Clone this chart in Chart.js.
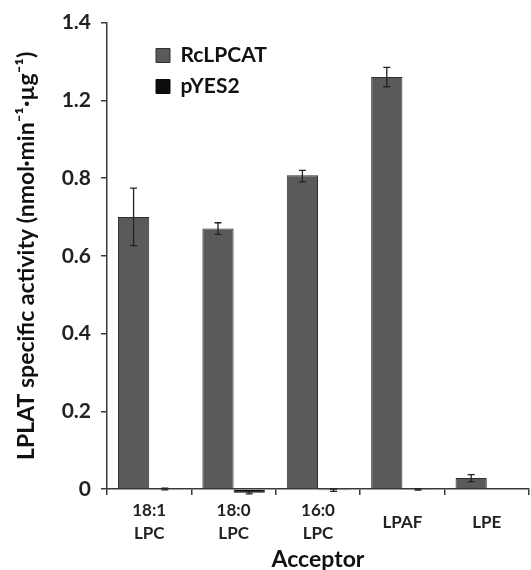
<!DOCTYPE html>
<html>
<head>
<meta charset="utf-8">
<script src="https://cdn.jsdelivr.net/npm/chart.js@4/dist/chart.umd.min.js"></script>
<style>
  html, body { margin: 0; padding: 0; background: #ffffff; }
  canvas { display: block; }
</style>
</head>
<body>
<canvas id="c" width="531" height="570"></canvas>
<script>
// ---- data ----
const categories = [["18:1", "LPC"], ["18:0", "LPC"], ["16:0", "LPC"], "LPAF", "LPE"];
const seriesNames = ["RcLPCAT", "pYES2"];
const rcValues = [0.70, 0.67, 0.815, 1.26, 0.028];
const rcErrors = [0.074, 0.015, 0.025, 0.025, 0.009];
const pyValues = [0.0, -0.0095, -0.003, -0.001, 0.0];
const pyErrors = [0.002, 0.003, 0.003, 0.002, 0.0];
// tick values as printed on the original (evenly spaced, 1.0 absent)
const yTickValues = [0, 0.2, 0.4, 0.6, 0.8, 1.2, 1.4];
const yTickLabels = ["0", "0.2", "0.4", "0.6", "0.8", "1.2", "1.4"];
const yTitle = "LPLAT specific activity (nmol·min⁻¹·µg⁻¹)";
const xTitle = "Acceptor";

// ---- scale whose printed ticks are evenly spaced (piecewise linear) ----
class EvenTickScale extends Chart.LinearScale {
  buildTicks() {
    return yTickValues.map(v => ({ value: v }));
  }
  _tickPos(v) {
    const t = yTickValues, n = t.length;
    let i = 0;
    if (v >= t[n - 1]) i = n - 2;
    else if (v > t[0]) { while (v > t[i + 1]) i++; }
    return i + (v - t[i]) / (t[i + 1] - t[i]);
  }
  getPixelForValue(v) {
    return this.getPixelForDecimal(this._tickPos(v) / (yTickValues.length - 1));
  }
  getValueForPixel(p) {
    const t = yTickValues, n = t.length;
    const d = this.getDecimalForPixel(p) * (n - 1);
    const i = Math.max(0, Math.min(n - 2, Math.floor(d)));
    return t[i] + (d - i) * (t[i + 1] - t[i]);
  }
}
EvenTickScale.id = 'evenTick';
EvenTickScale.defaults = Chart.LinearScale.defaults;
Chart.register(EvenTickScale);

const FONT = "Lato";
const AXIS_COLOR = "#3a3a3a";

const errorBars = {
  id: 'errorBars',
  afterDatasetsDraw(chart) {
    const ctx = chart.ctx;
    const y = chart.scales.y;
    const errs = [rcErrors, pyErrors];
    chart.data.datasets.forEach((ds, di) => {
      const meta = chart.getDatasetMeta(di);
      meta.data.forEach((bar, i) => {
        const e = errs[di][i];
        if (!e) return;
        const v = ds.data[i];
        const yt = y.getPixelForValue(v + e);
        const yb = y.getPixelForValue(v - e);
        const cap = 3.5;
        ctx.save();
        ctx.strokeStyle = "#222";
        ctx.lineWidth = 1.3;
        ctx.beginPath();
        ctx.moveTo(bar.x, yt); ctx.lineTo(bar.x, yb);
        ctx.moveTo(bar.x - cap, yt); ctx.lineTo(bar.x + cap, yt);
        ctx.moveTo(bar.x - cap, yb); ctx.lineTo(bar.x + cap, yb);
        ctx.stroke();
        ctx.restore();
      });
    });
  }
};

const legendShift = {
  id: 'legendShift',
  afterLayout(chart) {
    if (chart.legend) {
      chart.legend.left += 39;
      chart.legend.top += 35;
      chart.legend.bottom += 35;
    }
  }
};

const whiteBg = {
  id: 'whiteBg',
  beforeDraw(chart) {
    const ctx = chart.ctx;
    ctx.save();
    ctx.fillStyle = "#ffffff";
    ctx.fillRect(0, 0, chart.width, chart.height);
    ctx.restore();
  }
};

new Chart(document.getElementById('c'), {
  type: 'bar',
  data: {
    labels: categories,
    datasets: [
      {
        label: seriesNames[0],
        data: rcValues,
        backgroundColor: "#5a5a5a",
        borderColor: "#2e2e2e",
        borderWidth: 1,
        clip: false
      },
      {
        label: seriesNames[1],
        data: pyValues,
        backgroundColor: "#0d0d0d",
        borderColor: "#0d0d0d",
        borderWidth: 1,
        clip: false
      }
    ]
  },
  options: {
    responsive: false,
    devicePixelRatio: 1,
    animation: false,
    categoryPercentage: 0.74,
    barPercentage: 1.0,
    layout: { padding: { top: 20, right: 2, left: 0, bottom: 0 } },
    plugins: {
      legend: {
        position: 'chartArea',
        align: 'start',
        labels: {
          boxWidth: 14,
          boxHeight: 14,
          padding: 10,
          color: "#111",
          font: { family: FONT, size: 21, weight: 'bold' }
        }
      },
      tooltip: { enabled: false }
    },
    scales: {
      x: {
        grid: {
          drawOnChartArea: false,
          drawTicks: true,
          tickLength: 6,
          color: AXIS_COLOR,
          lineWidth: 1.5
        },
        border: { color: AXIS_COLOR, width: 1.5 },
        ticks: {
          color: "#222",
          padding: 16,
          maxRotation: 0,
          autoSkip: false,
          crossAlign: 'center',
          font: { family: FONT, size: 17, weight: 'bold', lineHeight: 1.35 }
        },
        title: {
          display: true,
          text: xTitle,
          color: "#111",
          padding: { top: 0, bottom: 0 },
          font: { family: FONT, size: 23, weight: 'bold', lineHeight: 0.9 }
        },
        afterFit(scale) { scale.height = 81; }
      },
      y: {
        type: 'evenTick',
        min: 0,
        max: 1.4,
        grid: {
          drawOnChartArea: false,
          drawTicks: true,
          tickLength: 6,
          color: AXIS_COLOR,
          lineWidth: 1.5
        },
        border: { color: AXIS_COLOR, width: 1.5 },
        ticks: {
          color: "#222",
          padding: 10,
          autoSkip: false,
          font: { family: FONT, size: 21, weight: 'bold' },
          callback: (value, index) => yTickLabels[index]
        },
        title: {
          display: true,
          text: yTitle,
          color: "#111",
          padding: { top: 13, bottom: 0 },
          font: { family: FONT, size: 23, weight: 'bold', lineHeight: 1.2 }
        },
        afterFit(scale) { scale.width = 107; }
      }
    }
  },
  plugins: [whiteBg, errorBars, legendShift]
});
</script>
</body>
</html>
